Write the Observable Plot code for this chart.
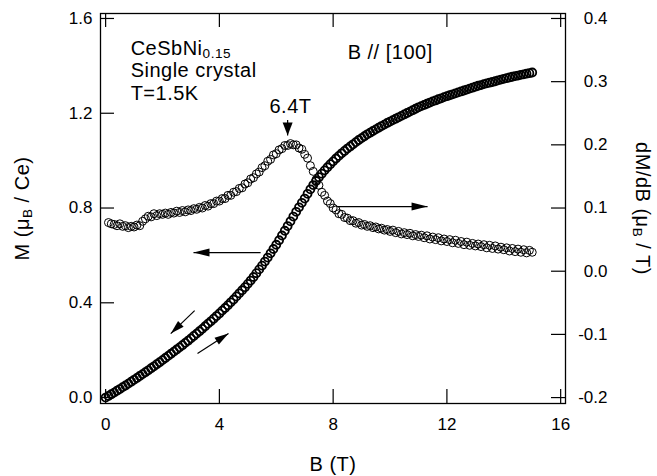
<!DOCTYPE html>
<html><head><meta charset="utf-8">
<script src="https://cdn.jsdelivr.net/npm/d3@7"></script>
<script src="https://cdn.jsdelivr.net/npm/@observablehq/plot@0.6"></script>
<style>body{margin:0;background:#fff} #chart svg{display:block}</style>
</head><body><div id="chart"></div>
<script>
// ---- data ----
// magnetization M (muB/Ce), B = 0.0 ... 15.0 T, step 0.1 T
const B_M = d3.range(151).map(i => +(i * 0.1).toFixed(1));
const M = [
 0.000,0.007,0.014,0.021,0.029,0.036,0.044,0.051,0.059,0.067,0.075,
 0.083,0.091,0.099,0.107,0.115,0.124,0.132,0.141,0.149,0.158,
 0.167,0.176,0.185,0.194,0.203,0.212,0.221,0.231,0.240,0.250,
 0.260,0.270,0.280,0.290,0.301,0.312,0.322,0.333,0.344,0.355,
 0.367,0.378,0.390,0.402,0.414,0.427,0.440,0.453,0.466,0.480,
 0.494,0.509,0.525,0.541,0.557,0.574,0.591,0.609,0.627,0.645,
 0.664,0.684,0.704,0.724,0.744,0.764,0.784,0.803,0.822,0.840,
 0.860,0.879,0.897,0.914,0.930,0.945,0.959,0.972,0.985,0.997,
 1.009,1.020,1.031,1.041,1.051,1.060,1.069,1.078,1.087,1.095,
 1.103,1.111,1.118,1.125,1.132,1.139,1.146,1.152,1.159,1.165,
 1.171,1.177,1.183,1.189,1.195,1.201,1.207,1.213,1.219,1.225,
 1.230,1.235,1.240,1.245,1.250,1.254,1.259,1.263,1.268,1.272,
 1.276,1.280,1.284,1.288,1.292,1.296,1.300,1.304,1.308,1.312,
 1.316,1.319,1.323,1.326,1.329,1.332,1.335,1.339,1.342,1.345,
 1.348,1.351,1.354,1.357,1.359,1.362,1.364,1.367,1.369,1.372
];
// dM/dB (muB/T), B = 0.1 ... 15.0 T, step 0.1 T
const B_dMdB = d3.range(1, 151).map(i => +(i * 0.1).toFixed(1));
const dMdB = [
 0.077,0.075,0.074,0.072,0.075,0.071,0.072,0.069,0.071,0.070,
 0.073,0.072,0.079,0.083,0.087,0.086,0.091,0.088,0.091,0.090,
 0.092,0.090,0.093,0.092,0.095,0.093,0.096,0.094,0.097,0.096,
 0.099,0.098,0.101,0.100,0.104,0.103,0.107,0.107,0.111,0.111,
 0.115,0.115,0.120,0.120,0.125,0.126,0.131,0.132,0.138,0.140,
 0.146,0.148,0.154,0.157,0.164,0.167,0.174,0.177,0.184,0.186,
 0.192,0.194,0.199,0.199,0.202,0.200,0.200,0.195,0.193,0.185,
 0.179,0.167,0.158,0.145,0.136,0.125,0.120,0.111,0.107,0.100,
 0.097,0.091,0.090,0.085,0.084,0.080,0.080,0.076,0.077,0.073,
 0.074,0.071,0.072,0.069,0.070,0.067,0.068,0.065,0.066,0.063,
 0.065,0.061,0.063,0.059,0.061,0.058,0.060,0.056,0.058,0.055,
 0.057,0.053,0.056,0.051,0.054,0.050,0.053,0.048,0.051,0.047,
 0.050,0.045,0.049,0.044,0.047,0.042,0.046,0.041,0.044,0.040,
 0.043,0.039,0.042,0.037,0.041,0.036,0.040,0.035,0.038,0.034,
 0.037,0.032,0.036,0.031,0.035,0.030,0.034,0.029,0.033,0.030
];
const xTicks = [0, 4, 8, 12, 16];
const yTicksM = [0, 0.4, 0.8, 1.2, 1.6];
const yTicksD = [-0.2, -0.1, 0.0, 0.1, 0.2, 0.3, 0.4];
const xLabel = "B (T)";
const yLabelLeft = "M (μ_{B} / Ce)";
const yLabelRight = "dM/dB (μ_{B} / T)";
// annotations (data coordinates, B and M)
const notes = [
  {x: 0.88, y: 1.444, text: "CeSbNi_{0.15}", anchor: "start"},
  {x: 0.88, y: 1.351, text: "Single crystal", anchor: "start"},
  {x: 0.88, y: 1.258, text: "T=1.5K", anchor: "start"},
  {x: 8.51, y: 1.427, text: "B // [100]", anchor: "start"},
  {x: 6.50, y: 1.203, text: "6.4T", anchor: "middle"}
];
const arrows = [
  {x1: 5.45, y1: 0.612, x2: 3.09, y2: 0.612},
  {x1: 8.16, y1: 0.806, x2: 11.32, y2: 0.806},
  {x1: 3.13, y1: 0.367, x2: 2.29, y2: 0.270},
  {x1: 3.23, y1: 0.186, x2: 4.32, y2: 0.270},
  {x1: 6.40, y1: 1.172, x2: 6.40, y2: 1.106}
];
const headSizes = [[16, 4], [16, 4], [14, 4], [14, 4], [13, 5]];

// ---- layout ----
const W = 657, H = 476, mL = 100, mR = 92, mT = 13, mB = 73;
const xDom = [-0.18, 16.17], yDom = [-0.025, 1.621];
const kx = (W - mL - mR) / (xDom[1] - xDom[0]);
const ky = (H - mT - mB) / (yDom[1] - yDom[0]);
const toM = d => (d + 0.2) / 0.375;          // right axis -> left axis units
const fromM = m => { const v = Math.round((m * 0.375 - 0.2) * 10) / 10; return (v === 0 ? 0 : v).toFixed(1); };
const plotW = W - mL - mR, plotH = H - mT - mB, tick = 14;

function headSymbol(a, L, w) {
  let ux = (a.x2 - a.x1) * kx, uy = -(a.y2 - a.y1) * ky;
  const n = Math.hypot(ux, uy); ux /= n; uy /= n;
  return {draw(ctx) {
    const bx = -ux * L, by = -uy * L;
    ctx.moveTo(0, 0);
    ctx.lineTo(bx - uy * w, by + ux * w);
    ctx.lineTo(bx + uy * w, by - ux * w);
    ctx.closePath();
  }};
}

const font = "'Liberation Sans', Arial, Helvetica, sans-serif";
const chart = Plot.plot({
  width: W, height: H,
  marginLeft: mL, marginRight: mR, marginTop: mT, marginBottom: mB,
  style: {fontFamily: font, fontSize: "17px", background: "white", color: "black"},
  x: {domain: xDom},
  y: {domain: yDom},
  marks: [
    Plot.frame({stroke: "black", strokeWidth: 1.3}),
    // inward ticks on all four sides
    Plot.tickX(xTicks, {x: d => d, insetTop: plotH - tick, stroke: "black", strokeWidth: 1.2}),
    Plot.tickX(xTicks, {x: d => d, insetBottom: plotH - tick, stroke: "black", strokeWidth: 1.2}),
    Plot.tickY(yTicksM, {y: d => d, insetRight: plotW - tick, stroke: "black", strokeWidth: 1.2}),
    Plot.tickY(yTicksD, {y: d => toM(d), insetLeft: plotW - tick, stroke: "black", strokeWidth: 1.2}),
    Plot.axisX({ticks: xTicks, tickSize: 0, tickPadding: 14, tickFormat: d => String(d), label: null}),
    Plot.axisY({anchor: "left", ticks: yTicksM, tickSize: 0, tickPadding: 8, tickFormat: d => d.toFixed(1), label: null}),
    Plot.axisY({anchor: "right", ticks: yTicksD.map(toM), tickSize: 0, tickPadding: 42, textAnchor: "end", tickFormat: fromM, label: null}),
    // data
    Plot.dot(M, {x: B_M, y: M, r: 4, stroke: "black", strokeWidth: 1.8, fill: "none"}),
    Plot.dot(dMdB, {x: B_dMdB, y: d => toM(d), r: 4, stroke: "black", strokeWidth: 1, fill: "none"}),
    // arrows
    Plot.link(arrows, {x1: "x1", y1: "y1", x2: "x2", y2: "y2", stroke: "black", strokeWidth: 1.2}),
    ...arrows.map((a, i) => Plot.dot([a], {x: "x2", y: "y2", r: 5, fill: "black", stroke: "none",
        symbol: headSymbol(a, headSizes[i][0], headSizes[i][1])})),
    // annotations
    Plot.text(notes.filter(n => n.anchor === "start"), {x: "x", y: "y", text: "text", textAnchor: "start", lineAnchor: "bottom", fontSize: 20}),
    Plot.text(notes.filter(n => n.anchor === "middle"), {x: "x", y: "y", text: "text", textAnchor: "middle", lineAnchor: "bottom", fontSize: 20}),
    // axis titles
    Plot.text([xLabel], {frameAnchor: "bottom", dy: 67, lineAnchor: "bottom", textAnchor: "middle", fontSize: 20}),
    Plot.text([yLabelLeft], {frameAnchor: "left", dx: -78, rotate: -90, lineAnchor: "middle", textAnchor: "middle", fontSize: 20}),
    Plot.text([yLabelRight], {frameAnchor: "right", dx: 77, rotate: 90, lineAnchor: "middle", textAnchor: "middle", fontSize: 20})
  ]
});

// turn _{...} into real subscripts
d3.select(chart).selectAll("text").each(function () {
  const t = this.textContent;
  if (!t.includes("_{")) return;
  const parts = t.split(/(_\{[^}]*\})/).filter(p => p);
  const sel = d3.select(this);
  sel.text(null);
  let prevSub = false;
  for (const p of parts) {
    if (p.startsWith("_{")) {
      sel.append("tspan").attr("font-size", "68%").attr("dy", 3).text(p.slice(2, -1));
      prevSub = true;
    } else {
      const ts = sel.append("tspan").text(p);
      if (prevSub) ts.attr("dy", -3);
      prevSub = false;
    }
  }
});
d3.select(chart).selectAll('g[font-size="20"]').style("letter-spacing", "0.5px");
document.getElementById("chart").appendChild(chart);
</script>
</body></html>
